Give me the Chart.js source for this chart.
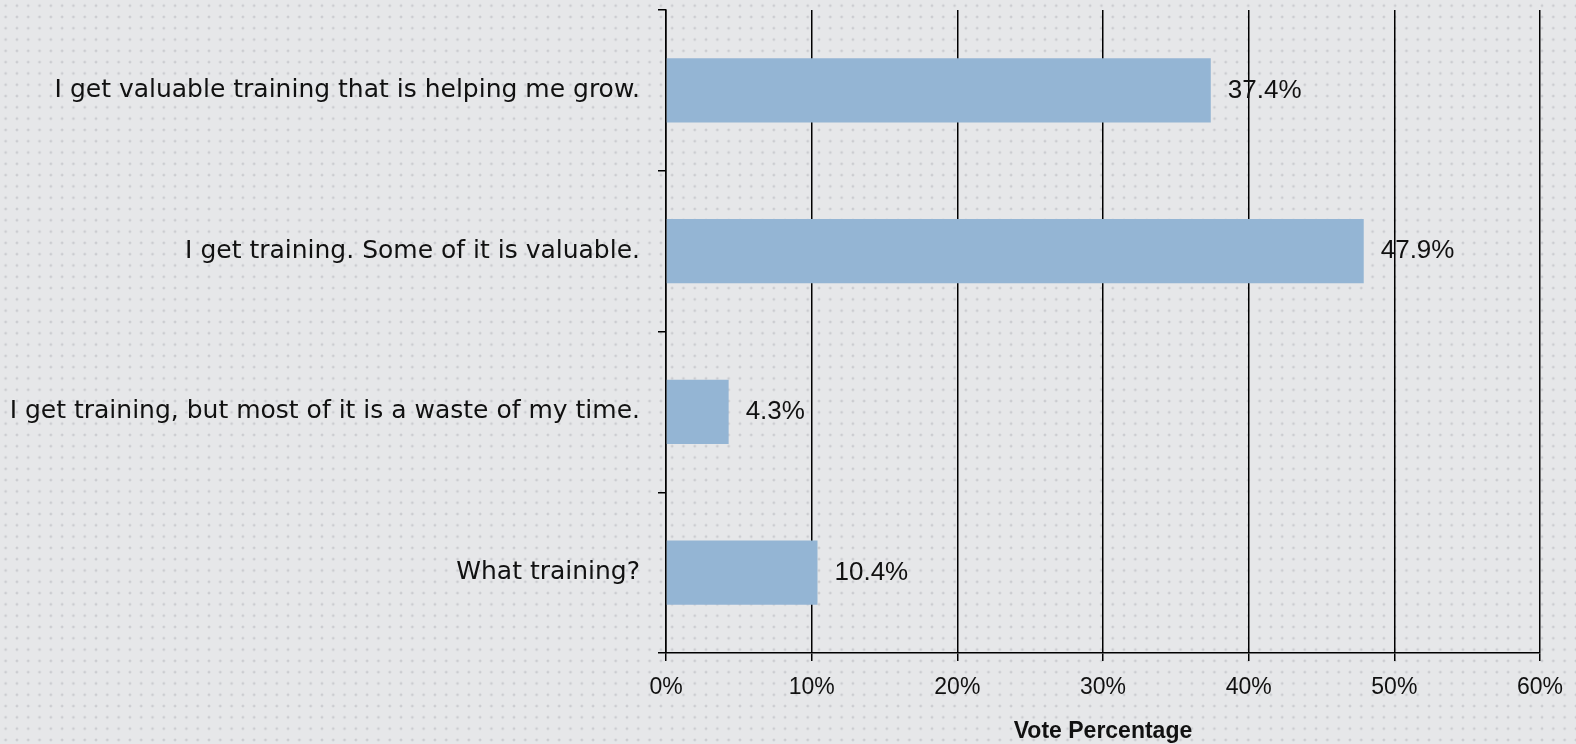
<!DOCTYPE html>
<html>
<head>
<meta charset="utf-8">
<script src="https://cdn.jsdelivr.net/npm/chart.js@4"></script>
<style>
  html, body {
    margin: 0;
    padding: 0;
    width: 1576px;
    height: 744px;
    overflow: hidden;
    background-color: #e6e7e9;
    background-image: radial-gradient(circle, #cbccd0 1px, transparent 1.7px);
    background-size: 11.3px 11.3px;
  }
  #wrap { position: relative; width: 1576px; height: 744px; }
</style>
</head>
<body>
<div id="wrap"><canvas id="trainingChart" width="1576" height="744"></canvas></div>
<script>
const categories = [
  'I get valuable training that is helping me grow.',
  'I get training. Some of it is valuable.',
  'I get training, but most of it is a waste of my time.',
  'What training?'
];
const votePercent = [37.4, 47.9, 4.3, 10.4];
const xTicks = [0, 10, 20, 30, 40, 50, 60];

const NUM_FONT = "'Liberation Sans', Arial, sans-serif";
const LABEL_FONT = "'DejaVu Sans', sans-serif";

// draws "37.4%" etc. right of each bar
const valueLabels = {
  id: 'valueLabels',
  afterDatasetsDraw(chart) {
    const c = chart.ctx;
    const meta = chart.getDatasetMeta(0);
    c.save();
    c.font = '26px ' + NUM_FONT;
    c.fillStyle = '#111';
    c.textAlign = 'left';
    c.textBaseline = 'middle';
    meta.data.forEach((bar, i) => {
      c.fillText(votePercent[i].toFixed(1) + '%', bar.x + 17, bar.y);
    });
    c.restore();
  }
};

const ctx = document.getElementById('trainingChart').getContext('2d');

new Chart(ctx, {
  type: 'bar',
  data: {
    labels: categories,
    datasets: [{
      data: votePercent,
      backgroundColor: '#94b5d4',
      borderWidth: 0,
      categoryPercentage: 0.4,
      barPercentage: 1.0
    }]
  },
  options: {
    indexAxis: 'y',
    responsive: false,
    animation: false,
    layout: { padding: { top: 10, right: 28, left: 0, bottom: 0 } },
    plugins: {
      legend: { display: false },
      tooltip: { enabled: false }
    },
    scales: {
      x: {
        min: 0,
        max: 60,
        afterBuildTicks: (scale) => { scale.ticks = xTicks.map(v => ({ value: v })); },
        ticks: {
          color: '#111',
          font: { family: NUM_FONT, size: 23 },
          padding: 13,
          callback: (v) => v + '%'
        },
        grid: {
          color: '#000',
          lineWidth: 1.5,
          tickLength: 8
        },
        border: { color: '#000', width: 1.5 },
        title: {
          display: true,
          text: 'Vote Percentage',
          color: '#111',
          font: { family: NUM_FONT, size: 23, weight: 'bold' },
          padding: { top: 4, bottom: -1 }
        },
        afterFit: (scale) => { scale.height = 91; }
      },
      y: {
        ticks: {
          color: '#111',
          font: { family: LABEL_FONT, size: 25 },
          padding: 18
        },
        grid: {
          drawOnChartArea: false,
          color: '#000',
          lineWidth: 1.5,
          tickLength: 8
        },
        border: { color: '#000', width: 1.5 },
        afterFit: (scale) => {
          scale.width = 666;
          scale.paddingTop = 0;
          scale.paddingBottom = 0;
        }
      }
    }
  },
  plugins: [valueLabels]
});
</script>
</body>
</html>
